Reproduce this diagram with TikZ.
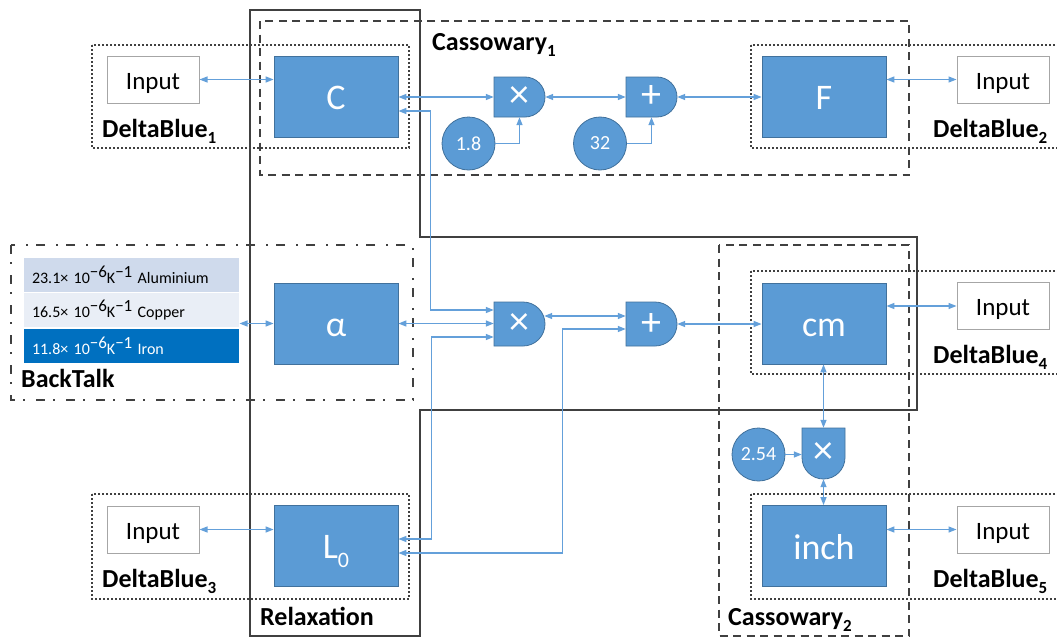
\documentclass[tikz,border=0pt]{standalone}
\usepackage{fontspec}
\setmainfont{Carlito}
\usetikzlibrary{arrows.meta,calc}

\definecolor{boxblue}{RGB}{91,155,213}
\definecolor{boxedge}{RGB}{65,113,156}
\definecolor{linkblue}{RGB}{100,160,218}
\definecolor{framegray}{RGB}{64,64,64}
\definecolor{rowA}{RGB}{207,218,236}
\definecolor{rowB}{RGB}{233,238,246}
\definecolor{rowC}{RGB}{0,112,192}
\definecolor{inputedge}{RGB}{166,166,166}

\newcommand\fsz[1]{\fontsize{#1}{#1}\selectfont}
\newcommand\labsub[1]{\raisebox{-6pt}[0pt][0pt]{\fsz{17}#1}}
\newcommand\boxsub[1]{\raisebox{-9pt}[0pt][0pt]{\fsz{22}#1}}
\newcommand\expo[1]{\raisebox{6pt}{\fsz{17}#1}}

% D-shaped operator: name, x, y, height, symbol
\newcommand\dgate[5]{%
  \begin{scope}[shift={(#2,#3)}]
    \filldraw[gateshape] (-25.5,-#4/2) -- (25.5-#4/2,-#4/2)
      arc[start angle=-90,end angle=90,radius=#4/2] -- (-25.5,#4/2) -- cycle;
  \end{scope}
  \node[gatetext, minimum width=51pt, minimum height=#4pt] (#1) at (#2,#3) {#5};}

\tikzset{
  >={Triangle[length=8pt,width=6pt]},
  blk/.style={rectangle, fill=boxblue, draw=boxedge, line width=0.8pt,
    minimum width=124pt, minimum height=81pt, inner sep=0pt, text=white,
    font=\fsz{36}, text height=26pt, text depth=0pt},
  inbox/.style={rectangle, draw=inputedge, line width=1pt, fill=white,
    minimum width=92pt, minimum height=47pt, inner sep=0pt,
    font=\fsz{25}, text height=19pt, text depth=0pt},
  constc/.style={circle, fill=boxblue, draw=boxedge, line width=0.8pt,
    minimum size=53pt, inner sep=0pt, text=white, font=\fsz{20}},
  gateshape/.style={fill=boxblue, draw=boxedge, line width=0.8pt},
  gatetext/.style={rectangle, inner sep=0pt, text=white, font=\fsz{40}},
  rowcell/.style={rectangle, draw=white, line width=1pt, minimum height=35pt,
    text width=198pt, inner xsep=9pt, inner ysep=0pt, align=left, font=\fsz{16}},
  grp/.style={font=\bfseries\fsz{26}, anchor=base west, inner sep=0pt},
  link/.style={draw=linkblue, line width=1.3pt},
  solidframe/.style={draw=framegray, line width=2.2pt},
  dashframe/.style={draw=framegray, line width=2.2pt, dash pattern=on 8pt off 5.5pt},
  dotframe/.style={draw=framegray, line width=1.8pt, dash pattern=on 1.8pt off 2.2pt},
  dashdotframe/.style={draw=framegray, line width=2.2pt,
    dash pattern=on 9pt off 8pt on 2pt off 11pt},
}

\begin{document}
\begin{tikzpicture}[x=1pt,y=-1pt]
\fill[white] (0,0) rectangle (1057,637);
\useasboundingbox (0,0) rectangle (1057,637);

% solver regions
\draw[solidframe] (250,10) -- (420,10) -- (420,237) -- (917,237) -- (917,410)
  -- (420,410) -- (420,636) -- (250,636) -- cycle;
\draw[dashframe] (260,21) rectangle (909,175);
\draw[dashframe] (719,245) rectangle (909,636);
\draw[dotframe] (92,45) rectangle (409,148);
\draw[dotframe] (751,45) rectangle (1070,148);
\draw[dotframe] (751,271) rectangle (1070,374);
\draw[dotframe] (92,494) rectangle (409,599);
\draw[dotframe] (751,494) rectangle (1070,599);
\draw[dashdotframe] (11,245) rectangle (413,400);

% region labels
\node[grp] (lab1) at (102,137) {DeltaBlue\labsub{1}};
\node[grp] (lab2) at (933,137) {DeltaBlue\labsub{2}};
\node[grp] (lab4) at (933,363) {DeltaBlue\labsub{4}};
\node[grp] (lab3) at (102,587) {DeltaBlue\labsub{3}};
\node[grp] (lab5) at (933,587) {DeltaBlue\labsub{5}};
\node[grp] (labc1) at (432,50) {Cassowary\labsub{1}};
\node[grp] (labc2) at (728,625) {Cassowary\labsub{2}};
\node[grp] (labr) at (260,625) {Relaxation};
\node[grp] (labb) at (21,387) {BackTalk};

% variables
\node[blk] (C) at (336,96.5) {C};
\node[blk] (F) at (824,96.5) {F};
\node[blk] (al) at (336,323.5) {α};
\node[blk] (cm) at (824,323.5) {cm};
\node[blk] (L0) at (336,545.5) {L\boxsub{0}};
\node[blk] (inch) at (824,546) {inch};

% inputs
\node[inbox] (in1) at (153,79.5) {Input};
\node[inbox] (in2) at (1003,79.5) {Input};
\node[inbox] (in4) at (1003,306) {Input};
\node[inbox] (in3) at (153,529.5) {Input};
\node[inbox] (in5) at (1003,529.5) {Input};

% constants
\node[constc] (c18) at (468.5,143.5) {1.8};
\node[constc] (c32) at (600,143.5) {32};
\node[constc] (c254) at (758.5,454.5) {2.54};

% operators
\dgate{m1}{519.5}{97}{40}{×}
\dgate{p1}{651.5}{97}{40}{+}
\dgate{m2}{519.5}{324}{44}{×}
\dgate{p2}{651.5}{324}{44}{+}
\begin{scope}[shift={(823.5,453.5)}]
  \filldraw[gateshape] (-21.5,-25.5) -- (21.5,-25.5) -- (21.5,4)
    arc[start angle=0,end angle=180,radius=21.5] -- cycle;
\end{scope}
\node[gatetext, minimum width=43pt, minimum height=51pt] (m3) at (823.5,453.5) {×};

% material table
\node[rowcell, fill=rowA] (r1) at (131,274.5)
  {23.1× 10\expo{−6}K\expo{−1} Aluminium};
\node[rowcell, fill=rowB] (r2) at (131,310)
  {16.5× 10\expo{−6}K\expo{−1} Copper};
\node[rowcell, fill=rowC, text=white] (r3) at (131,346)
  {11.8× 10\expo{−6}K\expo{−1} Iron};

% connectors
\draw[link,<->] (in1.east) -- (in1.east -| C.west);
\draw[link,<->] (m1.west -| C.east) -- (m1.west);
\draw[link,<->] (m1.east) -- (p1.west);
\draw[link,<->] (p1.east) -- (p1.east -| F.west);
\draw[link,<->] (in2.west -| F.east) -- (in2.west);
\draw[link,->] (c18.east) -| (m1.south);
\draw[link,->] (c32.east) -| (p1.south);
\draw[link,<->] ($(C.east)+(0,14.5)$) -| ($(m2.west)+(-63,-14)$) -- ($(m2.west)+(0,-14)$);
\draw[link,<->] (al.east) -- (al.east -| m2.west);
\draw[link,<->] ($(m2.west)+(0,13)$) -| ($(L0.east)+(33,-6.5)$) -- ($(L0.east)+(0,-6.5)$);
\draw[link,<->] ($(m2.east)+(-1,-8)$) -- ($(p2.west)+(0,-8)$);
\draw[link,<->] ($(p2.west)+(0,5)$) -| ($(L0.east)+(164,7.5)$) -- ($(L0.east)+(0,7.5)$);
\draw[link,<->] (p2.east) -- (p2.east -| cm.west);
\draw[link,<->] (in4.west -| cm.east) -- (in4.west);
\draw[link,<->] (r2.east |- al.west) -- (al.west);
\draw[link,<->] (cm.south -| m3.north) -- (m3.north);
\draw[link,->] (c254.east) -- (c254.east -| m3.west);
\draw[link,<->] (m3.south) -- (m3.south |- inch.north);
\draw[link,<->] (in5.west -| inch.east) -- (in5.west);
\draw[link,<->] (in3.east) -- (in3.east -| L0.west);
\end{tikzpicture}
\end{document}
